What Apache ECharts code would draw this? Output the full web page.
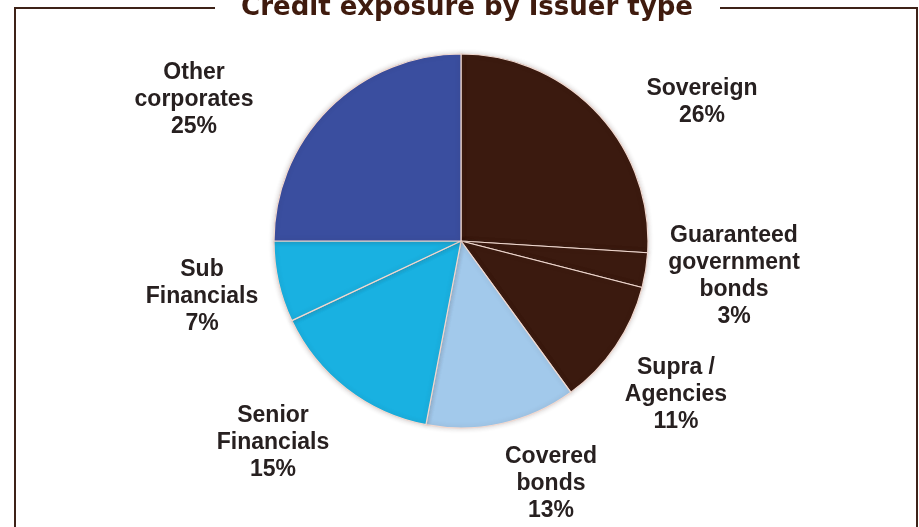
<!DOCTYPE html>
<html>
<head>
<meta charset="utf-8">
<title>Credit exposure by Issuer type</title>
<script src="https://cdn.jsdelivr.net/npm/echarts@6/dist/echarts.min.js"></script>
<style>
  html, body { margin: 0; padding: 0; background: #ffffff; }
  #chart { width: 919px; height: 527px; }
</style>
</head>
<body>
<div id="chart"></div>
<script>
// Issuer types, clockwise from twelve o'clock
const issuerTypes = [
  'Sovereign',
  'Guaranteed\ngovernment\nbonds',
  'Supra /\nAgencies',
  'Covered\nbonds',
  'Senior\nFinancials',
  'Sub\nFinancials',
  'Other\ncorporates'
];
// Share of credit exposure, percent
const exposureShare = [26, 3, 11, 13, 15, 7, 25];
const sliceColors = ['#3b1a0f', '#3b1a0f', '#3b1a0f', '#a2c9eb', '#19b1e1', '#19b1e1', '#3a4e9f'];

// Pie geometry and where each label block sits relative to the pie centre
const pieCenter = [461, 241];
const pieRadius = 187;
const labelSpots = [
  [241, -139],
  [273, 35],
  [215, 154],
  [90, 243],
  [-188, 202],
  [-259, 56],
  [-267, -141]
];

const frameColor = '#3d2218';

const chart = echarts.init(document.getElementById('chart'), null, { renderer: 'canvas' });

chart.setOption({
  backgroundColor: '#ffffff',
  animation: false,
  graphic: [
    {
      type: 'polyline',
      shape: { points: [[15, 527], [15, 8], [215, 8]] },
      style: { stroke: frameColor, lineWidth: 2, fill: null },
      silent: true
    },
    {
      type: 'polyline',
      shape: { points: [[720, 8], [917, 8], [917, 527]] },
      style: { stroke: frameColor, lineWidth: 2, fill: null },
      silent: true
    },
    {
      type: 'text',
      x: 467,
      y: 8,
      style: {
        text: 'Credit exposure by Issuer type',
        font: 'bold 26px "DejaVu Sans", Verdana, sans-serif',
        fill: '#3f1b0e',
        align: 'center',
        verticalAlign: 'middle'
      },
      silent: true
    }
  ],
  series: [
    {
      type: 'pie',
      center: pieCenter,
      radius: pieRadius,
      startAngle: 90,
      clockwise: true,
      avoidLabelOverlap: false,
      silent: true,
      data: issuerTypes.map((name, i) => ({
        name: name,
        value: exposureShare[i],
        itemStyle: { color: sliceColors[i] }
      })),
      itemStyle: {
        borderColor: '#f1d9d0',
        borderWidth: 1.2,
        shadowBlur: 5,
        shadowColor: 'rgba(60, 40, 40, 0.22)'
      },
      label: {
        show: true,
        position: 'outside',
        formatter: (p) => p.name + '\n' + p.value + '%',
        fontFamily: '"Liberation Sans", Arial, Helvetica, sans-serif',
        fontWeight: 'bold',
        fontSize: 23,
        lineHeight: 27,
        color: '#272020',
        align: 'center'
      },
      labelLine: { show: false },
      labelLayout: (params) => {
        const spot = labelSpots[params.dataIndex];
        return {
          x: pieCenter[0] + spot[0],
          y: pieCenter[1] + spot[1],
          align: 'center',
          verticalAlign: 'middle'
        };
      }
    }
  ]
});
</script>
</body>
</html>
